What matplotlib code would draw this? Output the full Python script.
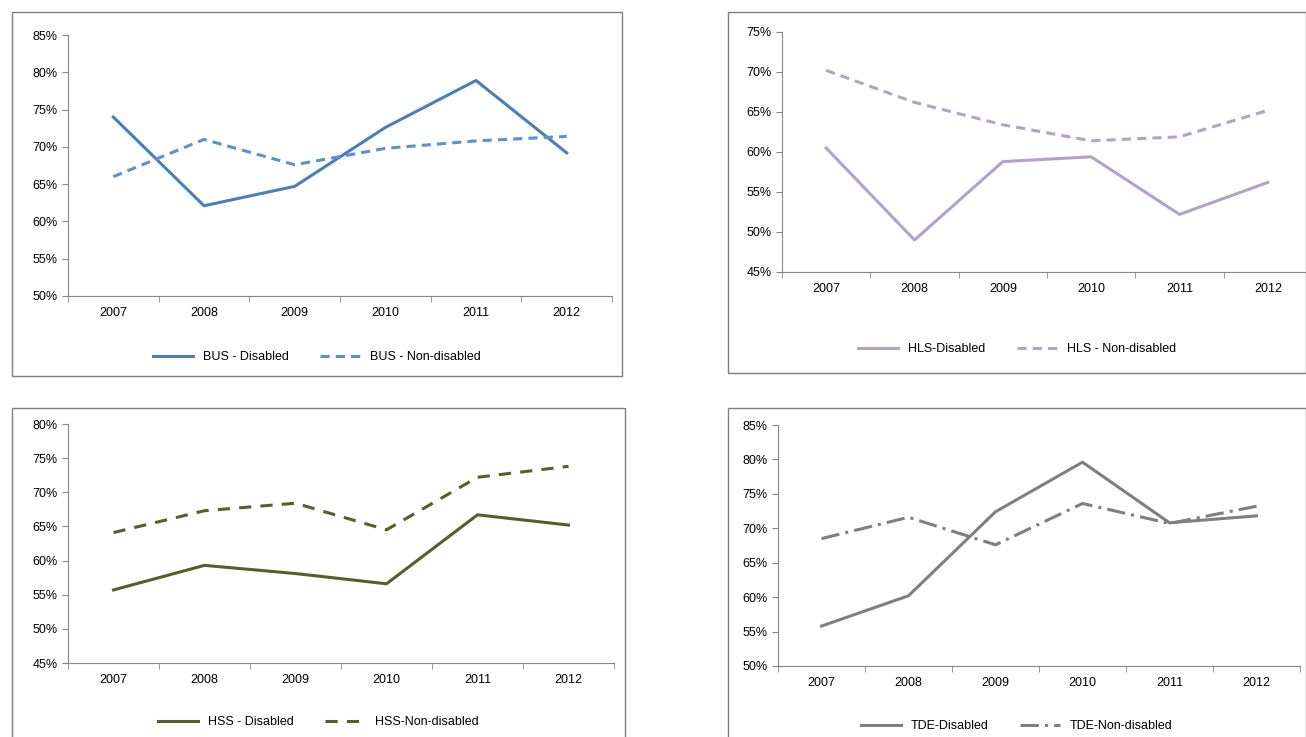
import matplotlib
matplotlib.use("Agg")
import matplotlib.pyplot as plt
from matplotlib.patches import Rectangle
from matplotlib.ticker import FuncFormatter, FixedLocator

plt.rcParams['font.family'] = ['Liberation Sans Narrow', 'Liberation Sans', 'DejaVu Sans']

years = ["2007", "2008", "2009", "2010", "2011", "2012"]
bus_dis = [74.0, 62.1, 64.7, 72.6, 78.9, 69.2]
bus_non = [66.0, 71.0, 67.6, 69.8, 70.8, 71.4]
hls_dis = [60.5, 49.0, 58.8, 59.4, 52.2, 56.2]
hls_non = [70.2, 66.2, 63.4, 61.4, 61.9, 65.2]
hss_dis = [55.7, 59.3, 58.1, 56.6, 66.7, 65.2]
hss_non = [64.1, 67.3, 68.4, 64.5, 72.2, 73.8]
tde_dis = [55.8, 60.2, 72.4, 79.6, 70.8, 71.8]
tde_non = [68.5, 71.6, 67.6, 73.6, 70.7, 73.2]

W, H = 1306, 737
fig = plt.figure(figsize=(W/100, H/100), dpi=100)

def px(l, t, r, b):
    return [l/W, 1-b/H, (r-l)/W, (b-t)/H]

panels = [
    dict(box=(12, 12, 622, 376), ax=(68, 35, 612, 296), yl=(50, 85), dis=bus_dis, non=bus_non,
         c1='#4a7ebb', c2='#5b8fd6', ls2=(0, (3, 2)), l1='BUS - Disabled', l2='BUS - Non-disabled', legy=357),
    dict(box=(728, 12, 1306, 373), ax=(782, 32, 1312, 272), yl=(45, 75), dis=hls_dis, non=hls_non,
         c1='#b3a2c7', c2='#b3a2c7', ls2=(0, (3, 2)), l1='HLS-Disabled', l2='HLS - Non-disabled', legy=349),
    dict(box=(12, 408, 625, 740), ax=(68, 424, 614, 663), yl=(45, 80), dis=hss_dis, non=hss_non,
         c1='#4f6228', c2='#4f6228', ls2=(0, (4, 3)), l1='HSS - Disabled', l2='HSS-Non-disabled', legy=722),
    dict(box=(728, 408, 1306, 740), ax=(778, 425, 1300, 666), yl=(50, 85), dis=tde_dis, non=tde_non,
         c1='#7f7f7f', c2='#7f7f7f', ls2=(0, (6, 2, 1, 2)), l1='TDE-Disabled', l2='TDE-Non-disabled', legy=726),
]

for p in panels:
    l, t, r, b = p['box']
    fig.add_artist(Rectangle((l/W, 1-b/H), (r-l)/W, (b-t)/H, transform=fig.transFigure,
                             fill=False, edgecolor='#7f7f7f', lw=1.0))
    ax = fig.add_axes(px(*p['ax']))
    x = list(range(len(years)))
    ln1, = ax.plot(x, p['dis'], color=p['c1'], lw=2.2, label=p['l1'])
    ln2, = ax.plot(x, p['non'], color=p['c2'], lw=2.2, linestyle=p['ls2'], label=p['l2'])
    ax.set_xlim(-0.5, 5.5)
    ax.set_ylim(*p['yl'])
    ax.set_yticks(range(p['yl'][0], p['yl'][1]+1, 5))
    ax.yaxis.set_major_formatter(FuncFormatter(lambda v, _: f"{int(v)}%"))
    ax.set_xticks(x)
    ax.set_xticklabels(years)
    ax.xaxis.set_minor_locator(FixedLocator([i - 0.5 for i in range(7)]))
    ax.tick_params(axis='x', which='major', length=0, pad=8, labelsize=9)
    ax.tick_params(axis='x', which='minor', length=4, color='#868686')
    ax.tick_params(axis='y', length=4, color='#868686', labelsize=9)
    for s in ['top', 'right']:
        ax.spines[s].set_visible(False)
    for s in ['left', 'bottom']:
        ax.spines[s].set_color('#868686')
    cx = ((l + r) / 2) / W
    fig.legend(handles=[ln1, ln2], loc='center', bbox_to_anchor=(cx, 1 - p['legy']/H),
               ncol=2, frameon=False, fontsize=9, handlelength=3.2, columnspacing=2.5)

fig.savefig("out.png", dpi=100)
